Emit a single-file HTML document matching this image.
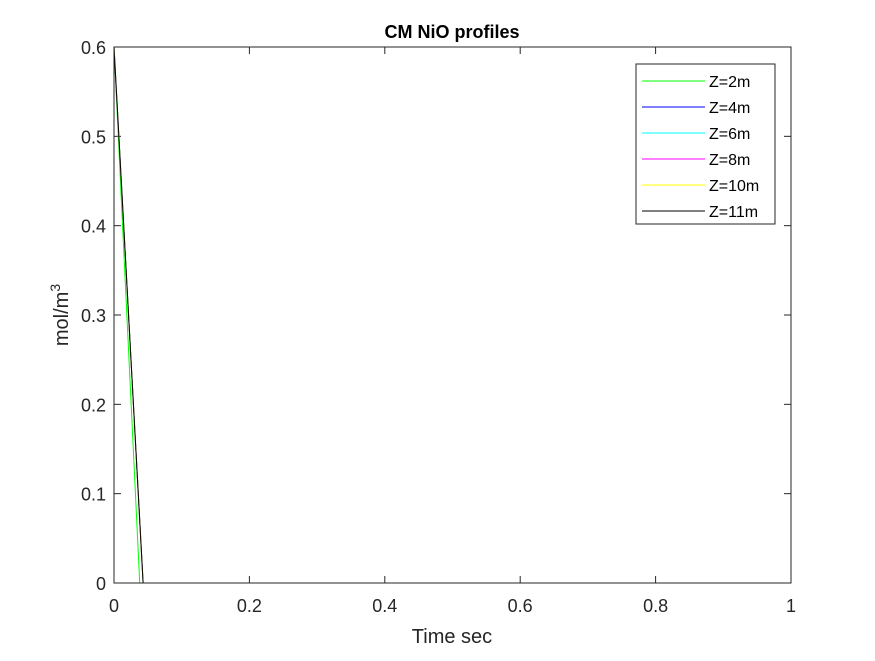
<!DOCTYPE html>
<html><head><meta charset="utf-8"><style>
body{margin:0;background:#fff;}
svg{font-family:"Liberation Sans",Arial,sans-serif;}
</style></head><body>
<svg id="chart" width="875" height="656">
<rect width="875" height="656" fill="#fff"/>
<rect x="114" y="47" width="677" height="536" fill="#fff" stroke="none"/>
<g id="grid"></g>
<g id="series"></g>
<rect x="114" y="47" width="677" height="536" fill="none" stroke="#262626" stroke-width="1"/>
<text x="452" y="38" text-anchor="middle" font-size="18" font-weight="bold" fill="#000">CM NiO profiles</text>
<text x="452" y="643" text-anchor="middle" font-size="20" fill="#262626">Time sec</text>
<text transform="translate(68,315) rotate(-90)" text-anchor="middle" font-size="20" fill="#262626">mol/m<tspan dy="-8" font-size="14">3</tspan></text>
<g id="legend">
<rect x="636" y="64" width="139" height="160" fill="#fff" stroke="#262626" stroke-width="1"/>
</g>
</svg>
<script>
const times = [0, 0.038, 0.043, 1];
const seriesNames = ["Z=2m","Z=4m","Z=6m","Z=8m","Z=10m","Z=11m"];
const seriesColors = ["#00ff00","#0000ff","#00ffff","#ff00ff","#ffff00","#000000"];
const z2 = [0.6, 0, 0, 0];
const z4 = [0.6, 0.07, 0, 0];
const z6 = [0.6, 0.07, 0, 0];
const z8 = [0.6, 0.07, 0, 0];
const z10 = [0.6, 0.07, 0, 0];
const z11 = [0.6, 0.07, 0, 0];
const xTicks = [0, 0.2, 0.4, 0.6, 0.8, 1];
const xTickLabels = ["0","0.2","0.4","0.6","0.8","1"];
const yTicks = [0, 0.1, 0.2, 0.3, 0.4, 0.5, 0.6];
const yTickLabels = ["0","0.1","0.2","0.3","0.4","0.5","0.6"];

const NS="http://www.w3.org/2000/svg";
const X0=114,X1=791,Y0=583,Y1=47;
const xs=v=>X0+(v-0)/(1-0)*(X1-X0);
const ys=v=>Y0-(v-0)/(0.6-0)*(Y0-Y1);
function mk(t,a,p){const e=document.createElementNS(NS,t);for(const k in a)e.setAttribute(k,a[k]);p.appendChild(e);return e;}
const grid=document.getElementById('grid');
xTicks.forEach((v,i)=>{
  const x=xs(v);
  const t1=mk('line',{x1:x,x2:x,y1:Y0,y2:Y0-7,stroke:'#262626'},grid);
  
  
  const t2=mk('line',{x1:x,x2:x,y1:Y1,y2:Y1+7,stroke:'#262626'},grid);
  
  
  const l=mk('text',{x:x,y:Y0+29,'text-anchor':'middle','font-size':'18',fill:'#262626'},grid);
  l.textContent=xTickLabels[i];
  
  
});
yTicks.forEach((v,i)=>{
  const y=ys(v);
  const t1=mk('line',{x1:X0,x2:X0+7,y1:y,y2:y,stroke:'#262626'},grid);
  
  
  const t2=mk('line',{x1:X1,x2:X1-7,y1:y,y2:y,stroke:'#262626'},grid);
  
  
  const l=mk('text',{x:X0-8,y:y+7,'text-anchor':'end','font-size':'18',fill:'#262626'},grid);
  l.textContent=yTickLabels[i];
  
  
});
const allSeries=[z2,z4,z6,z8,z10,z11];
const sg=document.getElementById('series');
allSeries.forEach((vals,i)=>{
  const pts=vals.map((v,j)=>xs(times[j])+','+ys(v)).join(' ');
  const p=mk('polyline',{points:pts,fill:'none',stroke:seriesColors[i],'stroke-width':'1'},sg);
  
  
});
const lg=document.getElementById('legend');
seriesNames.forEach((n,i)=>{
  const y=81+i*26;
  const ln=mk('line',{x1:642,x2:705,y1:y,y2:y,stroke:seriesColors[i],'stroke-width':'1'},lg);
  
  
  const t=mk('text',{x:709,y:y+6,'font-size':'16',fill:'#000'},lg);
  t.textContent=n;
  
  
});
</script>
</body></html>
